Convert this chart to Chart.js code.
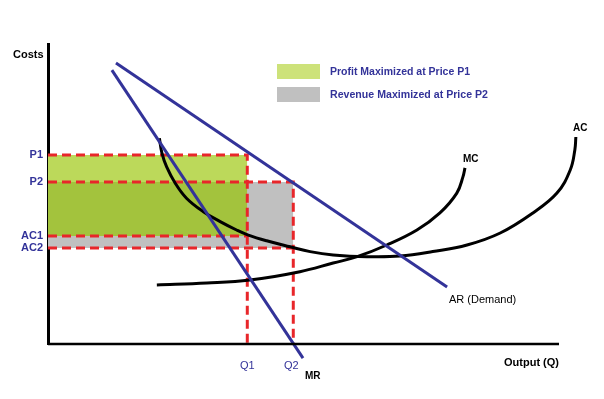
<!DOCTYPE html>
<html>
<head>
<meta charset="utf-8">
<script src="https://cdn.jsdelivr.net/npm/chart.js@4.4.1/dist/chart.umd.min.js"></script>
<style>
  html, body { margin: 0; padding: 0; background: #fff; }
  #wrap { width: 604px; height: 399px; }
</style>
</head>
<body>
<div id="wrap"><canvas id="grafico"></canvas></div>
<script>
// Níveis de preço / custo e quantidades (unidades do eixo: 0-100)
var priceLevels = [63, 54, 36, 32];
var priceLabels = ['P1', 'P2', 'AC1', 'AC2'];
var qtyLevels = [39, 48];
var qtyLabels = ['Q1', 'Q2'];

// Retas de receita
var arLine = [{ x: 13.3, y: 93.7 }, { x: 78.1, y: 19 }];
var mrLine = [{ x: 12.5, y: 91.3 }, { x: 49.9, y: -4.7 }];

// Curvas de custo
var acX = [21.8, 22.3, 23.2, 24.9, 27.1, 30.4, 33.7, 36.9, 39.2, 42.8, 47.4, 51.3, 55.8, 62.4, 68.9, 75.3, 82, 88.5, 94.9, 99.6, 102.2, 103.1, 103.3];
var acY = [68.6, 63.6, 59.1, 53.6, 48.6, 44.1, 40.8, 38, 36.3, 34.4, 32.4, 30.8, 29.7, 29.1, 29.3, 30.8, 33, 37, 43.7, 50.3, 58, 64.7, 69];
var mcX = [21.3, 31.1, 39.5, 49.3, 55.8, 60.5, 66.3, 72.2, 76.7, 80, 81.2, 81.6];
var mcY = [19.7, 20.3, 21.3, 24.1, 27, 29.1, 33, 38, 43.7, 50.3, 55.7, 58.7];

// Eixo de quantidade (vai só até 100)
var outputAxis = [{ x: 0, y: 0 }, { x: 100, y: 0 }];

var legendItems = ['Profit Maximized at Price P1', 'Revenue Maximized at Price P2'];

var P1 = priceLevels[0], P2 = priceLevels[1], AC1 = priceLevels[2], AC2 = priceLevels[3];
var Q1 = qtyLevels[0], Q2 = qtyLevels[1];

var azul = '#333399';
var vermelho = '#e8262a';
var verdeClaro = '#bcd95a';
var verdeEscuro = '#a3c33d';
var cinza = '#c0c0c0';

function toPoints(xs, ys) {
  return xs.map(function (x, i) { return { x: x, y: ys[i] }; });
}

// Retângulo preenchido (borda superior + preenchimento até um valor)
function area(x2, top, bottom, color, order) {
  return {
    data: [{ x: 0, y: top }, { x: x2, y: top }],
    fill: { value: bottom },
    backgroundColor: color,
    borderWidth: 0,
    pointRadius: 0,
    order: order
  };
}

function tracejado(points) {
  return {
    data: points,
    borderColor: vermelho,
    borderWidth: 3,
    borderDash: [9, 5],
    pointRadius: 0,
    fill: false,
    order: 5
  };
}

function linha(points, color, tension, width) {
  return {
    data: points,
    borderColor: color,
    borderWidth: width || 3,
    pointRadius: 0,
    fill: false,
    tension: tension || 0,
    clip: false,
    order: 1
  };
}

var textos = {
  id: 'textos',
  afterDraw: function (chart) {
    var ctx = chart.ctx;
    var xs = chart.scales.x, ys = chart.scales.y;
    var fonte = '"Liberation Sans", Arial, sans-serif';
    ctx.save();
    ctx.textBaseline = 'middle';

    // rótulos do eixo y
    ctx.fillStyle = azul;
    ctx.font = 'bold 11px ' + fonte;
    ctx.textAlign = 'right';
    priceLabels.forEach(function (lbl, i) {
      ctx.fillText(lbl, xs.left - 5, ys.getPixelForValue(priceLevels[i]));
    });

    // rótulos do eixo x
    ctx.font = '11px ' + fonte;
    ctx.textAlign = 'center';
    qtyLabels.forEach(function (lbl, i) {
      ctx.fillText(lbl, xs.getPixelForValue(qtyLevels[i]) - (i ? 2 : 0), ys.bottom + 22);
    });

    // títulos e nomes das curvas
    ctx.fillStyle = '#000';
    ctx.font = 'bold 11px ' + fonte;
    ctx.textAlign = 'left';
    ctx.fillText('Costs', 13, 55);
    ctx.fillText('Output (Q)', 504, 363);
    ctx.font = 'bold 10px ' + fonte;
    ctx.fillText('MR', 305, 376);
    ctx.fillText('MC', 463, 159);
    ctx.fillText('AC', 573, 128);
    ctx.font = '11px ' + fonte;
    ctx.fillText('AR (Demand)', 449, 300);

    // legenda
    var larg = [140, 158];
    legendItems.forEach(function (txt, i) {
      var y = 64 + i * 23;
      ctx.fillStyle = i ? cinza : '#cde27a';
      ctx.fillRect(277, y, 43, 15);
      ctx.fillStyle = azul;
      ctx.font = 'bold 11px ' + fonte;
      ctx.fillText(txt, 330, y + 7.5, larg[i]);
    });
    ctx.restore();
  }
};

var ctx = document.getElementById('grafico').getContext('2d');
new Chart(ctx, {
  type: 'line',
  data: {
    datasets: [
      Object.assign(linha(outputAxis, '#000', 0, 2.5), { order: 0 }),
      linha(arLine, azul),
      linha(mrLine, azul),
      linha(toPoints(acX, acY), '#000', 0.4),
      linha(toPoints(mcX, mcY), '#000', 0.4),
      tracejado([{ x: 0, y: P1 }, { x: Q1, y: P1 }, { x: Q1, y: 0 }]),
      tracejado([{ x: 0, y: P2 }, { x: Q2, y: P2 }, { x: Q2, y: 0 }]),
      tracejado([{ x: 0, y: AC1 }, { x: Q1, y: AC1 }]),
      tracejado([{ x: 0, y: AC2 }, { x: Q2, y: AC2 }]),
      area(Q1, P1, P2, verdeClaro, 10),
      area(Q1, P2, AC1, verdeEscuro, 11),
      area(Q2, P2, AC2, cinza, 12)
    ]
  },
  options: {
    responsive: true,
    maintainAspectRatio: false,
    animation: false,
    layout: { padding: { left: 48, top: 44, right: 14.34, bottom: 55 } },
    plugins: {
      legend: { display: false },
      tooltip: { enabled: false },
      filler: { drawTime: 'beforeDatasetsDraw' }
    },
    scales: {
      x: {
        type: 'linear', min: 0, max: 106,
        grid: { display: false, drawTicks: false },
        ticks: { display: false },
        border: { display: false }
      },
      y: {
        type: 'linear', min: 0, max: 100,
        grid: { display: false, drawTicks: false },
        ticks: { display: false },
        border: { display: true, color: '#000', width: 3 }
      }
    }
  },
  plugins: [textos]
});
</script>
</body>
</html>
